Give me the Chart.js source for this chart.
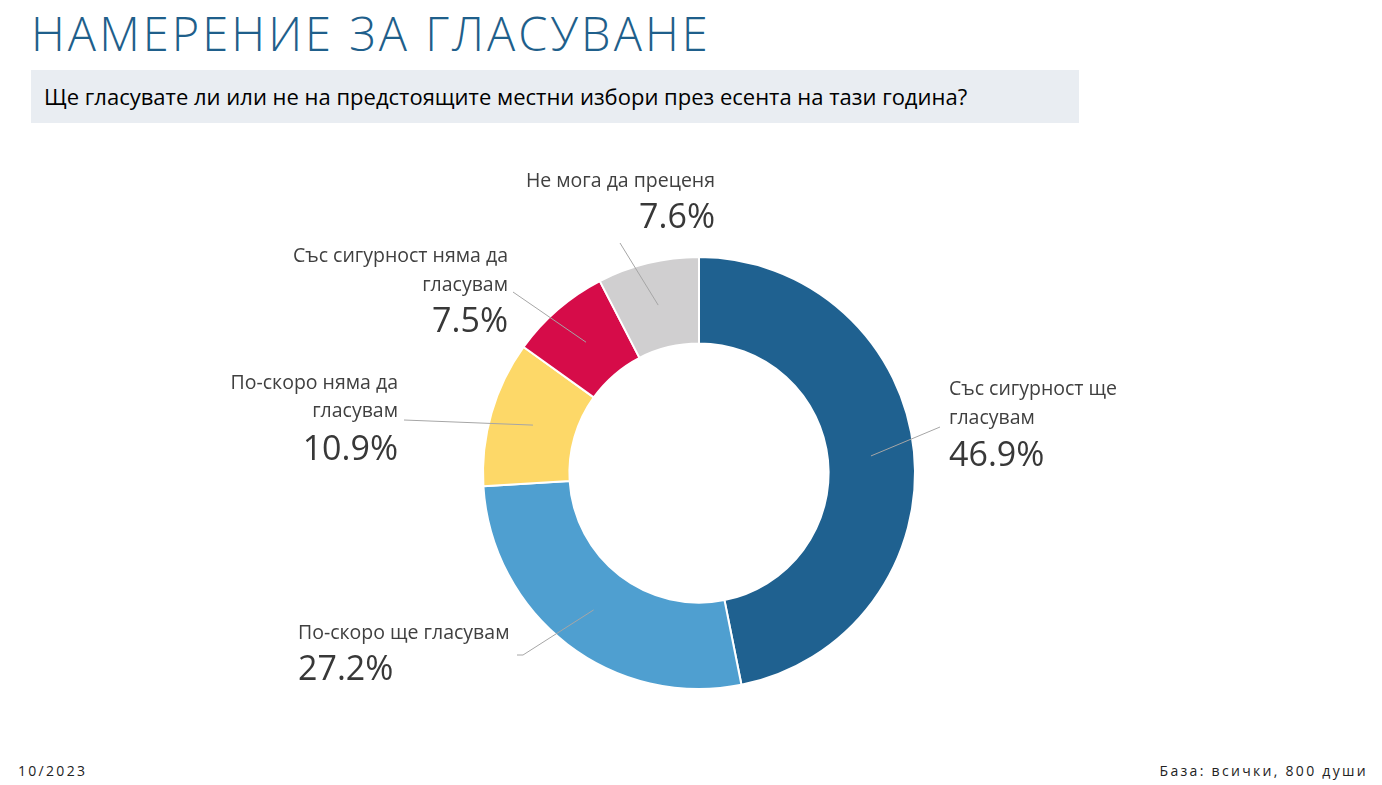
<!DOCTYPE html>
<html lang="bg">
<head>
<meta charset="UTF-8" />
<title>Намерение за гласуване</title>
<script src="https://cdn.jsdelivr.net/npm/chart.js@4.4.0/dist/chart.umd.min.js"></script>
<style>
  html, body { margin: 0; padding: 0; background: #fff; }
  body { width: 1382px; height: 785px; position: relative; overflow: hidden; font-family: "Open Sans", "Noto Sans", sans-serif; }
  #title { position: absolute; left: 31px; top: 1px; font-size: 47px; font-weight: 300; color: #1f5f8b; letter-spacing: 3.05px; white-space: nowrap; }
  #question { position: absolute; left: 31px; top: 70px; width: 1048px; height: 53px; background: #e9edf2; }
  #question span { position: absolute; left: 13px; top: 11px; font-size: 22px; font-weight: 500; color: #000; white-space: nowrap; }
  .foot { position: absolute; top: 761px; font-size: 14px; color: #222; letter-spacing: 2.3px; white-space: nowrap; }
  #wrap { position: absolute; left: 0; top: 0; width: 1382px; height: 785px; }
</style>
</head>
<body>
  <div id="title">НАМЕРЕНИЕ ЗА ГЛАСУВАНЕ</div>
  <div id="question"><span>Ще гласувате ли или не на предстоящите местни избори през есента на тази година?</span></div>
  <div class="foot" style="left:18px">10/2023</div>
  <div class="foot" style="right:14px">База: всички, 800 души</div>
  <div id="wrap"><canvas id="chart"></canvas></div>
  <script>
    var categories = [
      ['Със сигурност ще', 'гласувам'],
      ['По-скоро ще гласувам'],
      ['По-скоро няма да', 'гласувам'],
      ['Със сигурност няма да', 'гласувам'],
      ['Не мога да преценя']
    ];
    var values = [46.9, 27.2, 10.9, 7.5, 7.6];
    var colors = ['#1f6190', '#4f9fd0', '#fdd868', '#d60c49', '#d0cfd0'];

    // where each callout sits, relative to the donut centre
    var callouts = [
      { end: [241, -46], tx: 250, ty: [-84, -55], py: -17, align: 'left' },
      { end: [-176, 182], elbow: -182, tx: -401, ty: [160], py: 197, align: 'left' },
      { end: [-295, -53], tx: -301, ty: [-90, -62], py: -23, align: 'right' },
      { end: [-186, -181], tx: -191, ty: [-217, -188], py: -151, align: 'right' },
      { end: [-79, -230], tx: 16, ty: [-292], py: -255, align: 'right' }
    ];

    var calloutPlugin = {
      id: 'callouts',
      afterDatasetsDraw: function (chart) {
        var ctx = chart.ctx;
        var meta = chart.getDatasetMeta(0);
        meta.data.forEach(function (arc, i) {
          var c = callouts[i];
          var p = arc.getProps(['x', 'y', 'startAngle', 'endAngle', 'innerRadius', 'outerRadius'], true);
          var mid = (p.startAngle + p.endAngle) / 2;
          var r = (p.innerRadius + p.outerRadius) / 2;
          var sx = p.x + Math.cos(mid) * r;
          var sy = p.y + Math.sin(mid) * r;
          ctx.save();
          ctx.strokeStyle = '#a6a6a6';
          ctx.lineWidth = 1;
          ctx.beginPath();
          ctx.moveTo(sx, sy);
          ctx.lineTo(p.x + c.end[0], p.y + c.end[1]);
          if (c.elbow !== undefined) ctx.lineTo(p.x + c.elbow, p.y + c.end[1]);
          ctx.stroke();

          ctx.textAlign = c.align;
          ctx.textBaseline = 'middle';
          ctx.fillStyle = '#404040';
          ctx.font = '19.5px "Open Sans", "Noto Sans", sans-serif';
          categories[i].forEach(function (line, j) {
            ctx.fillText(line, p.x + c.tx, p.y + c.ty[j]);
          });
          ctx.fillStyle = '#383838';
          ctx.font = '500 34px "Open Sans", "Noto Sans", sans-serif';
          ctx.fillText(values[i].toFixed(1) + '%', p.x + c.tx, p.y + c.py);
          ctx.restore();
        });
      }
    };

    new Chart(document.getElementById('chart'), {
      type: 'doughnut',
      data: {
        labels: categories,
        datasets: [{
          data: values,
          backgroundColor: colors,
          borderColor: '#ffffff',
          borderWidth: 2,
          hoverOffset: 0
        }]
      },
      options: {
        responsive: true,
        maintainAspectRatio: false,
        animation: false,
        cutout: '60%',
        layout: { padding: { left: 482, right: 466, top: 256, bottom: 95 } },
        plugins: {
          legend: { display: false },
          tooltip: { enabled: false }
        }
      },
      plugins: [calloutPlugin]
    });
  </script>
</body>
</html>
